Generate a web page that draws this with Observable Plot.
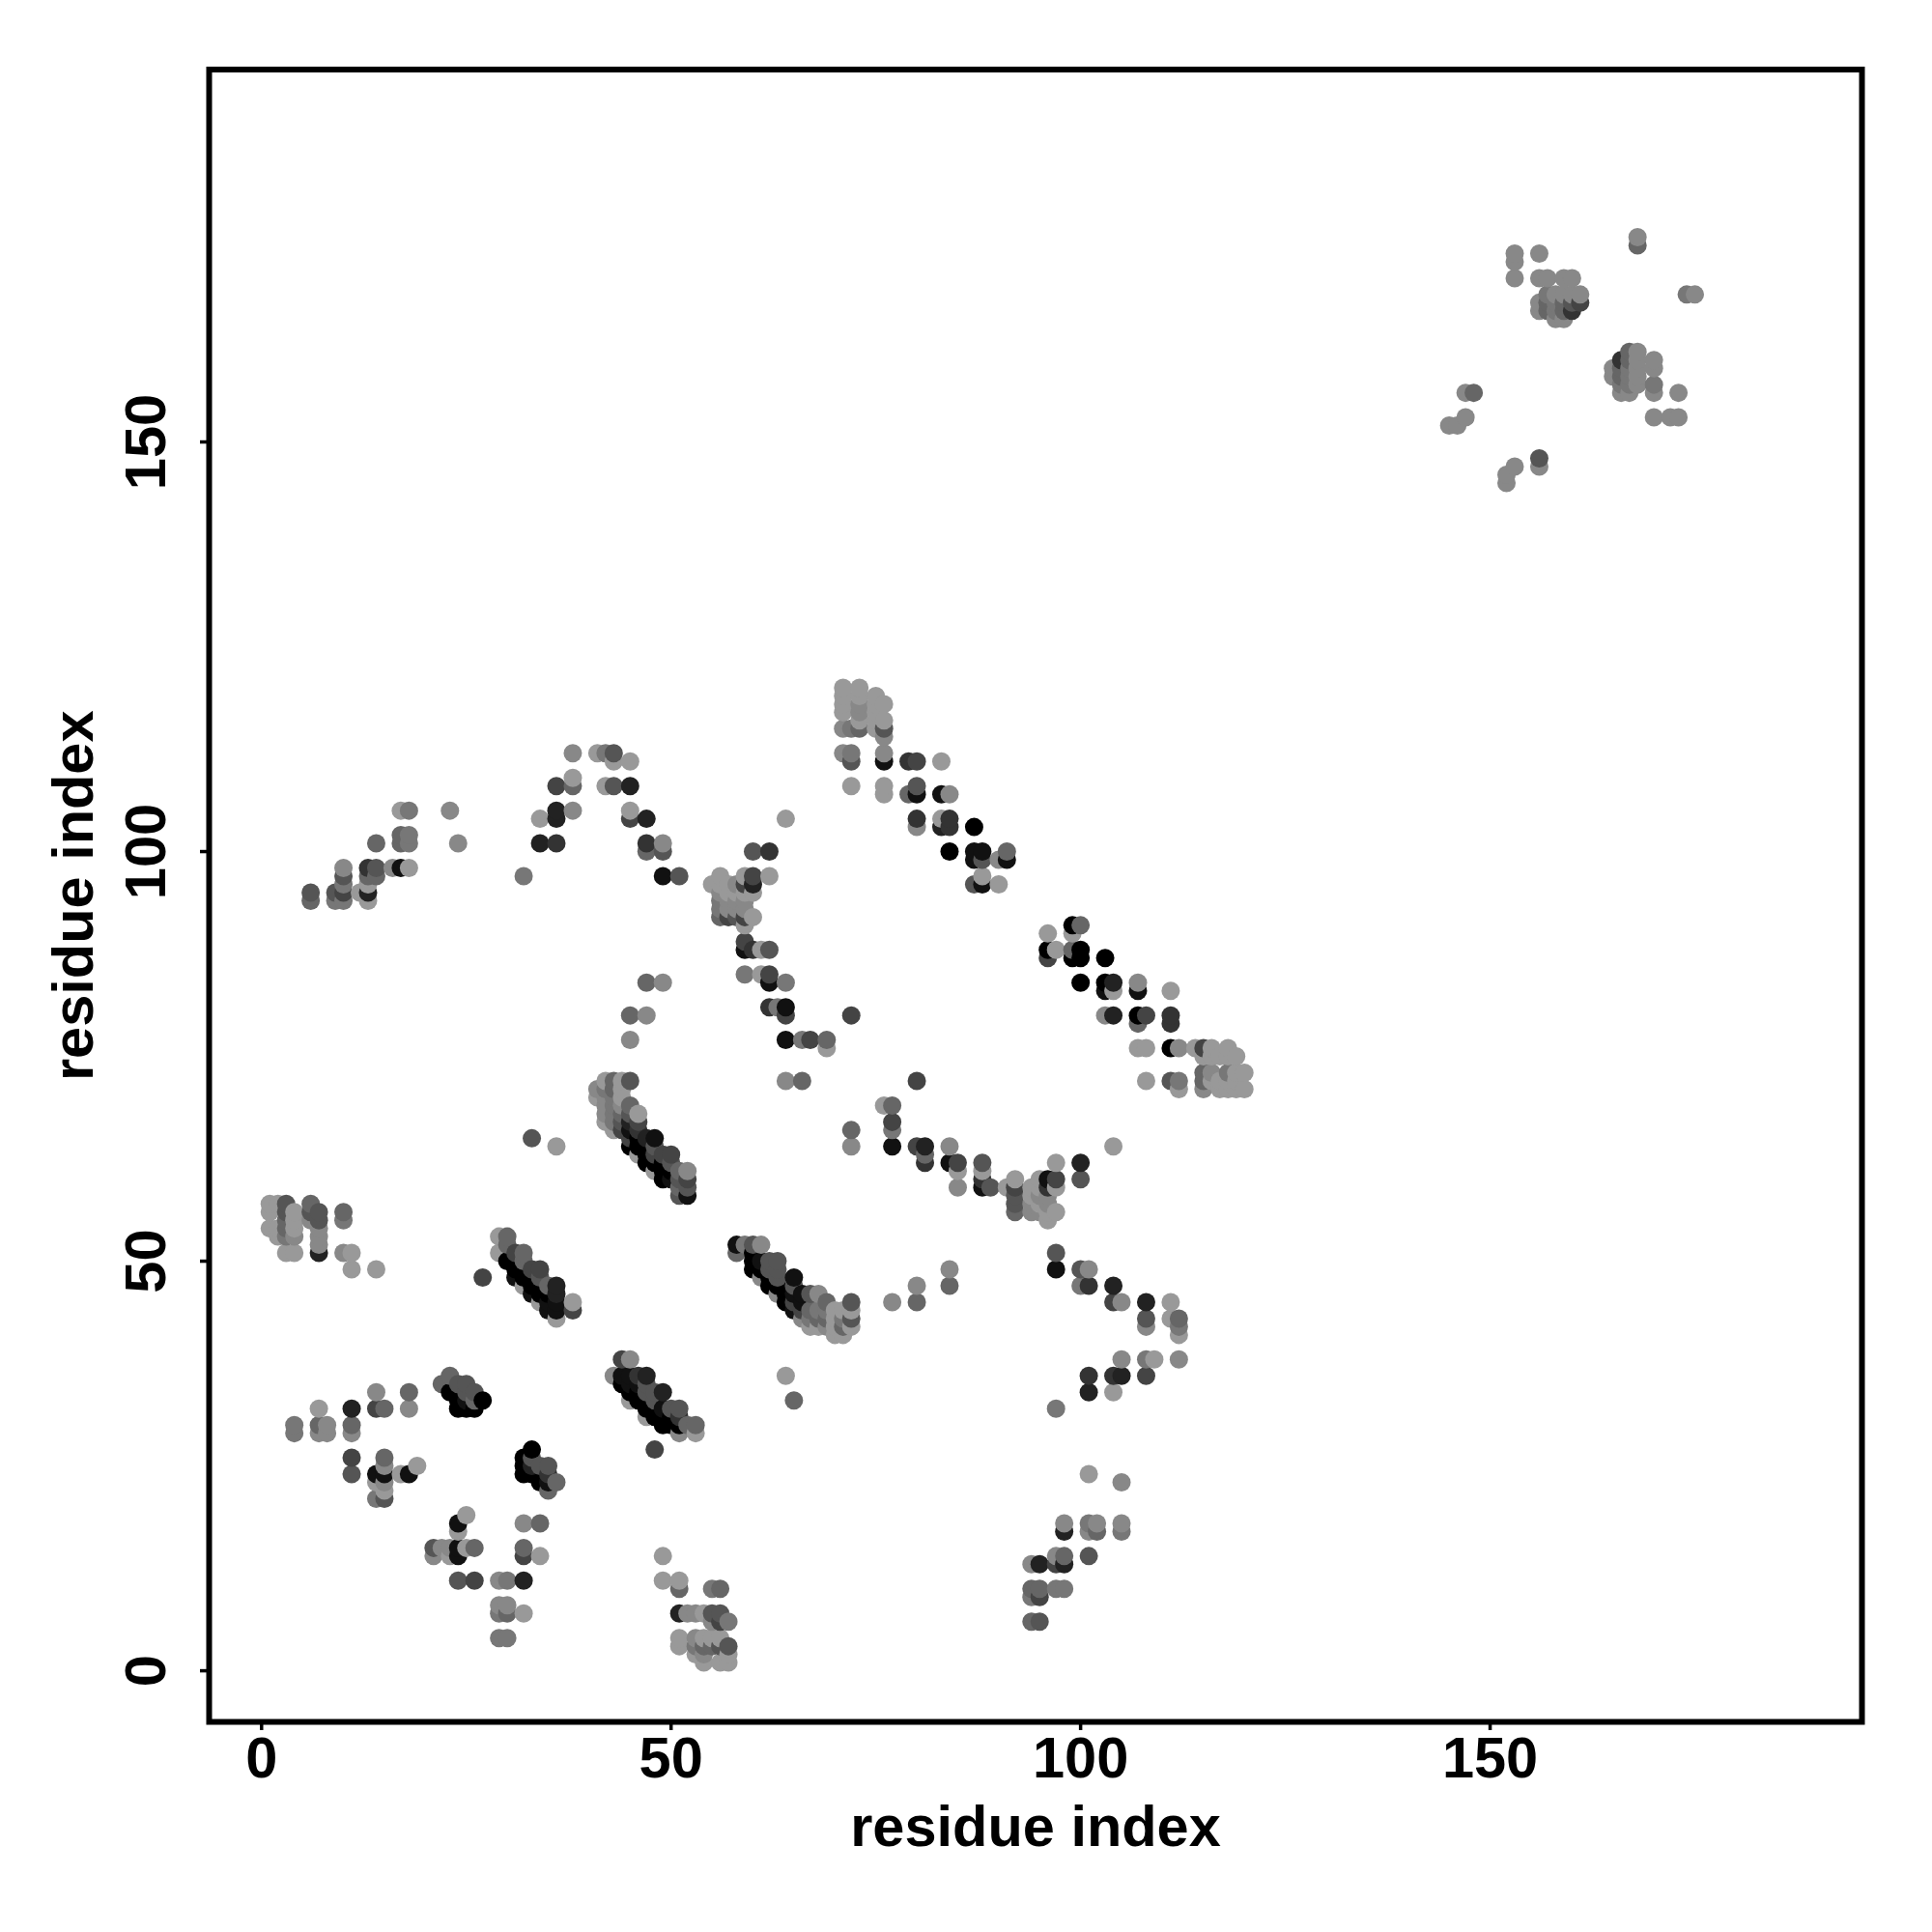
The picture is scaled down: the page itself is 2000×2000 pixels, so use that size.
<!DOCTYPE html>
<html>
<head>
<meta charset="utf-8">
<style>html,body{margin:0;padding:0;background:#fff}svg{display:block}</style>
<script src="https://cdn.jsdelivr.net/npm/d3@7"></script>
<script src="https://cdn.jsdelivr.net/npm/@observablehq/plot@0.6"></script>
</head>
<body>
<div id="chart"></div>
<script>
// Each entry: [residue i, residue j, contact strength 0 (weak) .. 9 (strong)]
const nearOrigin = [[4,30,2],[4,29,2],[7,32,0],[7,30,3],[7,29,1],[8,30,1],[8,29,1],[11,32,7],[11,30,3],[11,29,1],[14,34,1],[14,32,5],[15,32,3],[18,34,3],[18,32,1],[11,26,5],[11,24,4],[15,26,3],[15,25,1],[14,24,8],[15,24,8],[14,23,0],[15,23,1],[15,22,0],[14,21,2],[15,21,4],[18,24,8],[17,24,0],[19,25,0]];
const strandA = [[22,35,3],[23,36,3],[24,35,4],[25,35,4],[23,34,9],[24,33,9],[25,33,8],[25,34,4],[26,33,3],[26,34,4],[24,32,9],[25,32,9],[26,32,9],[27,33,9]];
const strandB = [[32,26,9],[32,25,9],[32,24,9],[33,27,9],[33,26,4],[33,25,7],[33,24,9],[34,25,4],[34,23,9],[35,25,4],[35,24,6],[35,23,8],[35,22,3],[36,23,3]];
const lowLeft = [[24,18,8],[25,19,0],[24,17,0],[21,15,4],[21,14,1],[22,15,1],[23,15,1],[23,14,0],[24,15,8],[24,14,8],[25,15,0],[26,15,3],[24,11,4],[26,11,5],[29,11,1],[30,11,2],[32,11,7],[29,8,1],[30,8,1],[29,7,2],[30,7,3],[32,7,0],[29,4,2],[30,4,2],[32,18,1],[34,18,3],[32,15,3],[32,14,5],[34,14,0]];
const strandC = [[44,38,5],[45,38,1],[43,36,1],[44,36,8],[45,36,8],[46,36,6],[47,36,7],[44,35,9],[45,35,8],[46,35,8],[47,35,4],[45,34,9],[45,33,0],[46,34,9],[46,33,9],[47,34,4],[47,33,9],[47,32,9],[47,31,0],[48,34,4],[49,34,7],[48,33,4],[48,32,9],[48,31,9],[49,32,8],[49,31,9],[49,30,9],[50,32,4],[51,32,4],[50,31,9],[50,30,9],[51,31,6],[51,30,9],[52,30,3],[53,30,3],[51,29,1],[53,29,0],[48,27,5],[64,36,0],[65,33,3]];
const bottom = [[49,14,0],[49,11,0],[51,11,0],[51,10,3],[55,10,2],[56,10,3],[51,7,7],[52,7,1],[53,7,1],[54,7,0],[55,7,4],[56,7,4],[55,6,1],[56,6,5],[57,6,2],[51,4,0],[51,3,0],[53,4,1],[54,4,0],[55,4,0],[56,4,0],[53,3,2],[54,3,3],[55,3,3],[56,3,4],[57,3,4],[53,2,0],[54,2,1],[57,2,0],[54,1,0],[56,1,0],[57,1,0]];
const bottomMid = [[94,6,3],[95,6,4],[94,9,2],[94,10,3],[94,13,1],[95,13,7],[95,9,5],[95,10,3],[97,10,2],[98,10,2],[97,14,1],[98,14,3],[97,13,5],[98,13,7],[98,17,7],[98,18,1],[101,14,4],[101,18,2],[102,18,1],[101,17,1],[102,17,3],[105,18,1],[105,17,2],[101,24,0],[105,23,1]];
const block55 = [[1,57,0],[2,57,0],[3,57,4],[1,56,0],[3,56,4],[4,56,0],[1,54,0],[2,54,0],[2,53,0],[3,55,3],[3,54,3],[3,53,2],[4,55,0],[4,54,0],[4,53,1],[3,51,0],[4,51,0],[6,57,3],[6,55,1],[6,56,4],[7,56,4],[7,55,4],[7,54,1],[7,53,1],[7,52,1],[7,51,7],[10,56,3],[10,55,2],[10,51,1],[11,51,0],[11,49,0],[14,49,0]];
const strandD = [[29,53,0],[30,53,3],[29,51,0],[30,52,3],[31,51,5],[32,51,3],[30,50,9],[31,49,9],[32,50,3],[31,50,9],[32,49,9],[33,49,5],[34,49,5],[31,48,8],[32,48,9],[32,47,0],[33,48,9],[33,47,9],[34,48,4],[34,47,9],[33,46,8],[34,46,9],[35,47,3],[35,46,9],[36,47,7],[36,46,7],[36,45,8],[35,45,8],[34,45,0],[35,44,8],[36,44,8],[36,43,0],[38,45,0],[38,44,5],[27,48,5]];
const strandE = [[58,52,8],[58,51,3],[59,52,2],[60,52,4],[61,52,1],[60,51,9],[60,50,9],[60,49,9],[61,50,8],[61,49,9],[61,48,1],[62,50,4],[63,50,4],[62,49,4],[62,48,9],[62,47,9],[63,49,4],[63,48,4],[63,47,9],[63,46,1],[64,46,9],[64,45,9],[65,48,8],[65,47,4],[65,46,8],[65,45,5],[66,46,8],[66,45,8],[67,46,4],[68,46,1],[65,44,8],[66,44,5],[66,43,1],[67,44,3],[67,43,2],[67,42,0],[68,44,2],[68,43,3],[68,42,0],[69,45,3],[69,44,2],[69,43,3],[69,42,1],[70,44,0],[70,43,0],[70,42,0],[70,41,0],[71,44,0],[71,43,2],[71,42,3],[71,41,0],[72,45,4],[72,44,0],[72,43,4],[72,42,0],[77,45,1],[80,47,1],[80,45,3],[84,49,1],[84,47,3]];
const midRight = [[97,51,4],[97,49,8],[100,49,4],[101,49,1],[100,47,2],[101,47,6],[104,47,7],[104,45,5],[105,45,1],[108,45,7],[108,43,4],[108,42,1],[111,45,0],[111,43,0],[112,43,3],[112,42,2],[112,41,0],[105,38,1],[108,38,2],[109,38,0],[112,38,1],[101,36,6],[104,36,6],[105,36,7],[108,36,5],[101,34,7],[104,34,0],[97,32,2]];
const strandF = [[47,84,3],[49,84,1],[45,80,3],[47,80,1],[45,77,1],[42,72,0],[43,72,3],[44,72,0],[45,72,4],[41,71,1],[42,71,2],[43,71,3],[44,71,0],[41,70,0],[42,70,1],[43,70,2],[44,70,0],[42,69,1],[43,69,2],[44,69,1],[45,69,3],[42,68,1],[43,68,2],[44,68,3],[45,68,4],[46,68,0],[42,67,0],[43,67,2],[44,67,4],[45,67,7],[46,67,5],[43,66,0],[44,66,5],[45,66,8],[46,66,6],[47,65,7],[48,65,8],[45,65,5],[46,65,9],[45,64,9],[46,63,0],[46,64,9],[47,64,9],[47,63,9],[47,62,9],[48,64,4],[48,63,5],[48,62,9],[48,61,0],[49,63,5],[50,63,5],[49,62,9],[49,61,9],[49,60,9],[50,62,4],[50,61,9],[50,60,8],[51,61,3],[51,60,4],[51,59,3],[51,58,4],[52,61,1],[52,60,5],[52,59,4],[52,58,8],[33,65,4],[36,64,0]];
const upperBend = [[64,104,0],[60,100,4],[62,100,6],[56,97,0],[59,97,0],[60,97,5],[62,97,0],[55,96,0],[56,96,0],[57,96,0],[58,96,1],[59,96,5],[60,96,7],[56,95,1],[57,95,0],[58,95,0],[59,95,0],[60,95,0],[56,94,2],[57,94,1],[58,94,1],[59,94,1],[56,93,2],[57,93,1],[58,93,1],[59,93,1],[56,92,3],[57,92,5],[58,92,4],[59,92,5],[60,92,0],[59,91,0],[59,89,5],[59,88,8],[60,88,6],[61,88,0],[62,88,4],[59,85,2],[61,85,0],[62,85,5],[62,84,8],[64,84,2],[62,81,6],[63,81,2],[64,81,8],[64,80,5],[72,80,5],[64,77,8],[66,77,2],[67,77,5],[69,77,3],[69,76,0],[64,72,1],[66,72,3]];
const diagonalG = [[80,104,6],[80,103,1],[83,104,0],[83,103,7],[84,104,6],[84,103,6],[87,103,9],[84,100,9],[87,100,8],[88,100,8],[87,99,8],[88,99,4],[90,99,1],[91,100,3],[91,99,8],[87,96,4],[88,97,0],[88,96,8],[90,96,0]];
const arcH = [[80,72,5],[76,69,0],[77,69,3],[77,67,5],[77,66,2],[77,64,8],[72,66,3],[72,64,1],[80,64,5],[81,64,7],[81,63,3],[81,62,6],[84,64,1],[84,62,8],[85,62,5],[85,61,0],[85,59,1],[88,62,4],[88,61,0],[88,60,6],[88,59,8],[89,59,4],[91,59,0],[92,60,0],[92,59,5],[92,58,4],[92,57,4],[92,56,3],[94,59,0],[95,60,0],[94,58,0],[95,59,0],[94,57,1],[95,58,1],[95,57,0],[94,56,1],[95,56,1],[96,60,8],[97,60,5],[97,62,0],[96,59,6],[97,59,0],[96,58,1],[96,57,1],[96,56,0],[96,55,0],[97,56,0],[100,62,7],[100,60,4],[104,64,0]];
const diagonalI = [[99,91,9],[100,91,3],[99,90,0],[96,90,0],[96,88,9],[96,87,5],[97,88,0],[99,88,3],[99,87,9],[100,88,9],[100,87,9],[103,87,9],[100,84,9],[103,84,9],[104,84,7],[103,83,8],[104,83,0],[107,84,1],[107,83,8],[111,83,0],[103,80,1],[104,80,7],[107,80,9],[108,80,5],[107,79,3],[111,80,6],[111,79,6],[107,76,0],[108,76,0],[111,76,9],[112,76,1],[114,76,0],[115,76,5],[116,76,0],[118,76,0],[115,75,0],[116,75,0],[117,75,0],[118,75,0],[119,75,0],[108,72,0],[111,72,4],[112,72,2],[112,71,0],[115,73,3],[116,73,1],[118,73,2],[119,73,0],[120,73,0],[115,72,3],[116,72,0],[117,72,0],[118,72,0],[119,72,0],[115,71,1],[117,71,0],[118,71,0],[119,71,0],[120,71,0]];
const topCluster = [[71,120,0],[73,120,0],[71,119,0],[73,119,0],[71,118,0],[73,118,1],[71,117,0],[73,117,1],[75,119,0],[76,118,0],[75,118,0],[75,117,0],[75,116,0],[76,116,0],[73,116,0],[71,115,1],[72,115,2],[73,115,3],[75,115,0],[76,115,4],[76,114,1],[71,112,1],[72,112,2],[72,111,4],[76,112,1],[76,111,8],[79,111,6],[80,111,5],[83,111,0],[72,108,0],[76,108,0],[76,107,0],[79,107,3],[80,108,4],[80,107,8],[83,107,8],[84,107,1]];
const arcJ = [[6,95,4],[6,94,3],[9,95,4],[9,94,2],[10,98,1],[10,97,4],[10,96,2],[10,95,5],[10,94,2],[12,95,0],[13,98,6],[13,97,3],[13,96,0],[13,95,7],[13,94,0],[14,98,4],[14,97,3],[14,101,3],[16,98,1],[17,98,8],[18,98,0],[17,102,3],[17,101,3],[18,102,2],[18,101,2],[17,105,0],[18,105,2],[23,105,1],[24,101,1],[32,97,2],[34,101,7],[36,101,6],[34,104,0],[36,105,7],[36,104,7],[38,105,1],[36,108,5],[38,108,3],[38,109,0],[38,112,1],[41,112,0],[42,112,2],[43,112,4],[43,111,0],[45,111,0],[42,108,0],[43,108,4],[45,108,7],[45,105,0],[45,104,5],[47,104,7],[47,101,6],[47,100,3],[49,101,1],[49,100,4],[49,97,8],[51,97,4]];
const farCluster = [[168,175,1],[168,174,3],[153,173,1],[153,172,1],[153,170,1],[156,173,1],[156,170,1],[157,170,1],[159,170,1],[160,170,1],[156,167,1],[156,166,1],[157,168,2],[157,167,3],[157,166,3],[158,168,1],[158,167,2],[158,166,2],[158,165,1],[159,168,1],[159,167,3],[159,166,3],[159,165,1],[160,168,1],[160,167,4],[160,166,6],[161,168,1],[161,167,5],[174,168,2],[175,168,1],[167,161,3],[168,161,1],[166,160,6],[167,160,3],[168,160,1],[170,160,1],[165,159,1],[166,159,3],[167,159,2],[168,159,1],[170,159,1],[165,158,1],[166,158,3],[167,158,2],[168,158,1],[166,157,2],[167,157,2],[168,157,1],[170,157,2],[166,156,1],[167,156,1],[170,156,1],[173,156,1],[170,153,1],[172,153,1],[173,153,1],[147,156,1],[148,156,3],[147,153,1],[145,152,1],[146,152,1],[156,148,4],[156,147,1],[153,147,1],[152,146,1],[152,145,1]];

const axisTicks = [0, 50, 100, 150];
const axisTitle = "residue index";

const contacts = d3.sort(
  [nearOrigin, strandA, strandB, lowLeft, strandC, bottom, bottomMid, block55, strandD, strandE, midRight, strandF, upperBend, diagonalG, arcH, diagonalI, topCluster, arcJ, farCluster]
    .flat().map(([x, y, level]) => ({x, y, level})),
  d => d.x, d => d.y
);

const chart = Plot.plot({
  width: 2000,
  height: 2000,
  marginLeft: 216,
  marginRight: 73,
  marginTop: 71.5,
  marginBottom: 218,
  x: {domain: [-6.4, 195.4]},
  y: {domain: [-6.24, 195.46]},
  color: {type: "linear", domain: [0, 9], range: ["#999999", "#000000"]},
  style: {fontFamily: "'Liberation Sans', Arial, sans-serif", fontWeight: "bold", fontSize: "59.5px", color: "#000", background: "#fff"},
  marks: [
    Plot.dot(contacts, {x: "x", y: "y", r: 9.5, fill: "level", stroke: null}),
    Plot.frame({stroke: "#000", strokeWidth: 6}),
    Plot.axisX({ticks: axisTicks, tickSize: 9, tickPadding: 6, strokeWidth: 3.5, label: axisTitle, labelAnchor: "center", labelArrow: "none", labelOffset: 128, fontSize: 59.5, tickFormat: d => String(d)}),
    Plot.axisY({ticks: axisTicks, tickSize: 9, tickPadding: 37, strokeWidth: 3.5, tickRotate: -90, label: axisTitle, labelAnchor: "center", labelArrow: "none", labelOffset: 163, fontSize: 59.5, tickFormat: d => String(d)})
  ]
});
document.getElementById("chart").appendChild(chart);
</script>
</body>
</html>
